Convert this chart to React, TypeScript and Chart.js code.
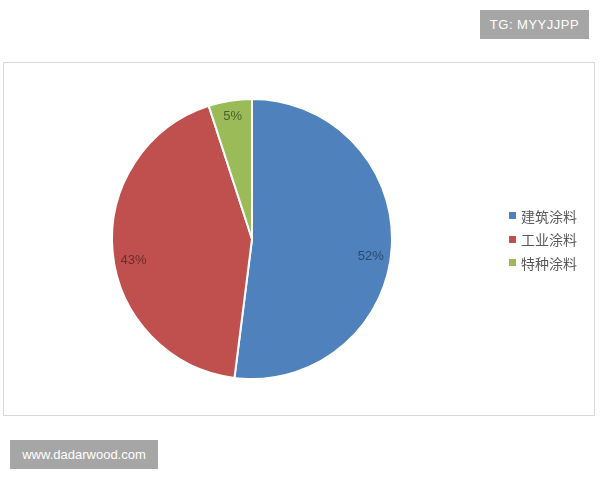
import React, { useEffect, useRef } from "react";
import { Chart, registerables } from "chart.js";

Chart.register(...registerables);

const categories = ["建筑涂料", "工业涂料", "特种涂料"];
const shares = [52, 43, 5];
const sliceColors = ["#4F81BD", "#C0504D", "#9BBB59"];
const labelColors = ["#2B4A70", "#6E2B2A", "#4F5F2C"];

const labelNudgeY = [10, 10, -1];

const labelPlugin = {
  id: "sliceLabels",
  afterDatasetsDraw(chart: any) {
    const { ctx } = chart;
    const meta = chart.getDatasetMeta(0);
    ctx.save();
    ctx.font = "13px 'Liberation Sans', Arial, sans-serif";
    ctx.textAlign = "center";
    ctx.textBaseline = "middle";
    meta.data.forEach((arc: any, i: number) => {
      const { x, y, startAngle, endAngle, outerRadius } = arc.getProps(
        ["x", "y", "startAngle", "endAngle", "outerRadius"],
        true
      );
      const mid = (startAngle + endAngle) / 2;
      const r = outerRadius * (i === 2 ? 0.88 : 0.85);
      ctx.fillStyle = labelColors[i];
      ctx.fillText(shares[i] + "%", x + Math.cos(mid) * r, y + Math.sin(mid) * r + labelNudgeY[i]);
    });
    ctx.restore();
  },
};

export default function App() {
  const ref = useRef<HTMLCanvasElement>(null);
  useEffect(() => {
    if (!ref.current) return;
    const chart = new Chart(ref.current, {
      type: "pie",
      data: {
        labels: categories,
        datasets: [
          {
            data: shares,
            backgroundColor: sliceColors,
            borderColor: "#ffffff",
            borderWidth: 2,
          },
        ],
      },
      options: {
        responsive: false,
        animation: false,
        layout: { padding: { left: 107, right: 201, top: 35, bottom: 35 } },
        plugins: { legend: { display: false }, tooltip: { enabled: false } },
      },
      plugins: [labelPlugin],
    });
    return () => chart.destroy();
  }, []);

  const box: React.CSSProperties = {
    position: "absolute",
    background: "#a6a6a6",
    color: "#ffffff",
    fontFamily: "'Liberation Sans', Arial, sans-serif",
    fontSize: 13,
    display: "flex",
    alignItems: "center",
    justifyContent: "center",
  };

  return (
    <div
      style={{
        position: "fixed",
        left: 0,
        top: 0,
        width: 600,
        height: 480,
        background: "#ffffff",
        overflow: "hidden",
      }}
    >
      <div style={{ ...box, left: 480, top: 10, width: 109, height: 29, letterSpacing: 0.5 }}>
        TG: MYYJJPP
      </div>
      <div
        style={{
          position: "absolute",
          left: 3,
          top: 62,
          width: 590,
          height: 352,
          border: "1px solid #d9d9d9",
        }}
      >
        <canvas ref={ref} width={590} height={352} style={{ display: "block" }} />
        <div
          style={{
            position: "absolute",
            left: 505,
            top: 141,
            fontFamily: "'Noto Sans CJK SC', sans-serif",
            fontSize: 14,
            color: "#595959",
          }}
        >
          {categories.map((c, i) => (
            <div key={c} style={{ display: "flex", alignItems: "center", height: 23.5 }}>
              <span
                style={{
                  display: "inline-block",
                  width: 7,
                  height: 7,
                  background: sliceColors[i],
                  marginRight: 5,
                }}
              />
              <span>{c}</span>
            </div>
          ))}
        </div>
      </div>
      <div style={{ ...box, left: 10, top: 440, width: 148, height: 29 }}>www.dadarwood.com</div>
    </div>
  );
}
